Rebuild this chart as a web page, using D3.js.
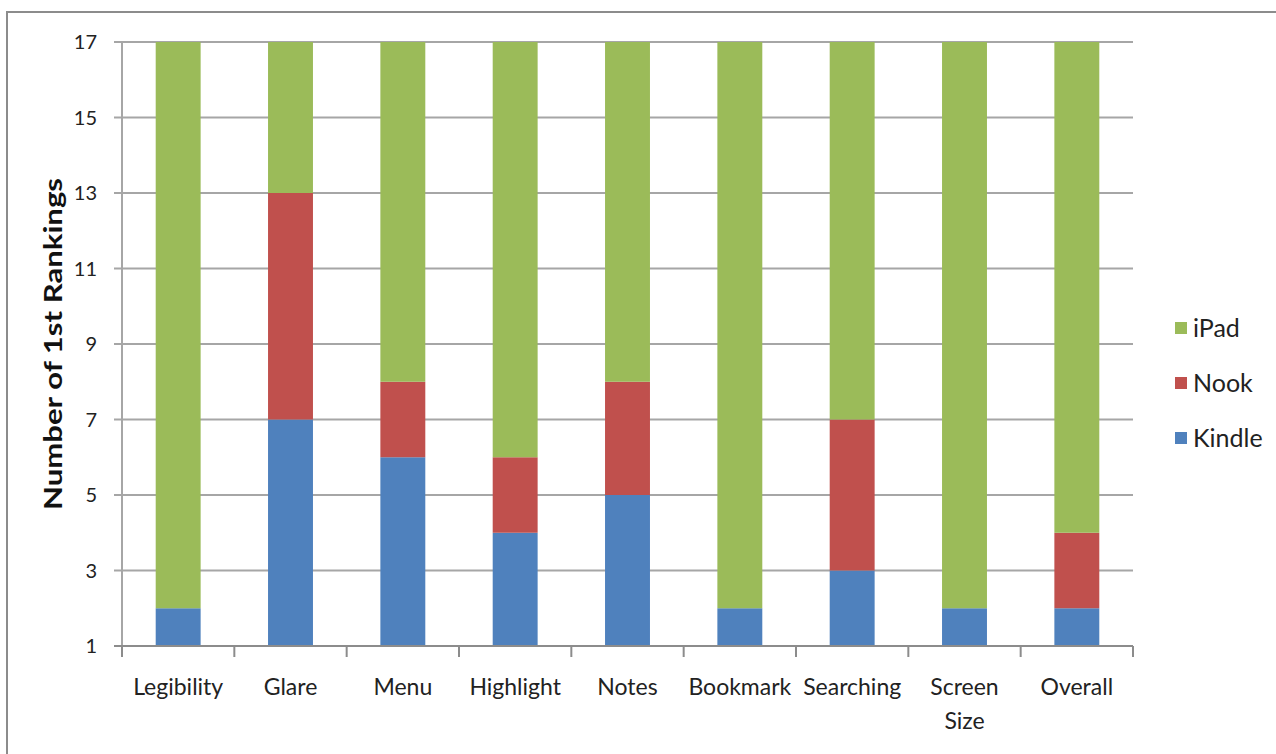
<!DOCTYPE html>
<html><head><meta charset="utf-8">
<script src="https://cdn.jsdelivr.net/npm/d3@7"></script>
<style>body{margin:0;background:#fff;} svg{display:block;}</style>
</head><body>
<svg id="chart" width="1276" height="754"></svg>
<script>
const categories = ["Legibility","Glare","Menu","Highlight","Notes","Bookmark","Searching","Screen Size","Overall"];
const kindle = [2,7,6,4,5,2,3,2,2];
const nook   = [0,6,2,2,3,0,4,0,2];
const ipad   = [15,4,9,11,9,15,10,15,13];
const seriesNames = ["Kindle","Nook","iPad"];
const seriesColors = ["#4F81BD","#C0504D","#9BBB59"];
const yTicks = [1,3,5,7,9,11,13,15,17];
const yTitle = "Number of 1st Rankings";

(function(){
const svg = d3.select("#chart");
const font = "Lato, 'Open Sans', sans-serif";

// outer frame
svg.append("rect").attr("x",7).attr("y",12).attr("width",1300).attr("height",800)
  .attr("fill","none").attr("stroke","#8c8c8c").attr("stroke-width",2);

const pl=122, pr=1133, pt=42, pb=646;
const x = d3.scaleBand().domain(categories).range([pl,pr]).paddingInner(0.6).paddingOuter(0.3);
const y = d3.scaleLinear().domain([1,17]).range([pb,pt]);

// gridlines
svg.append("g").selectAll("line").data(yTicks).join("line")
  .attr("x1",pl-8).attr("x2",pr).attr("y1",d=>y(d)).attr("y2",d=>y(d))
  .attr("stroke","#a6a6a6").attr("stroke-width",2);

// stacked data
const table = categories.map((c,i)=>({cat:c, Kindle:kindle[i], Nook:nook[i], iPad:ipad[i]}));
const stack = d3.stack().keys(seriesNames)(table);
const g = svg.append("g");
stack.forEach((s,si)=>{
  g.selectAll(null).data(s).join("rect")
    .attr("x",d=>x(d.data.cat))
    .attr("width",x.bandwidth())
    .attr("y",d=>y(Math.min(17,d[1])))
    .attr("height",d=>Math.max(0, y(Math.max(1,d[0])) - y(Math.min(17,d[1]))))
    .attr("fill",seriesColors[si]);
});

// y axis line
svg.append("line").attr("x1",pl).attr("x2",pl).attr("y1",pt).attr("y2",pb)
  .attr("stroke","#a6a6a6").attr("stroke-width",2);
// x axis line
svg.append("line").attr("x1",pl-8).attr("x2",pr).attr("y1",pb).attr("y2",pb)
  .attr("stroke","#8c8c8c").attr("stroke-width",2);
// x ticks at band boundaries
const xb = d3.range(categories.length+1).map(i=> pl + (pr-pl)*i/categories.length);
svg.append("g").selectAll("line").data(xb).join("line")
  .attr("x1",d=>d).attr("x2",d=>d).attr("y1",pb).attr("y2",pb+11)
  .attr("stroke","#8c8c8c").attr("stroke-width",2);

// y tick labels
svg.append("g").selectAll("text").data(yTicks).join("text")
  .attr("x",pl-25).attr("y",d=>y(d)).attr("dy","0.35em")
  .attr("text-anchor","end").attr("font-family",font).attr("font-size",20).attr("fill","#222")
  .text(d=>d);

// x labels
const xl = svg.append("g").selectAll("text").data(categories).join("text")
  .attr("x",d=>x(d)+x.bandwidth()/2).attr("y",695)
  .attr("text-anchor","middle").attr("font-family",font).attr("font-size",23).attr("fill","#222");
xl.each(function(d){
  const words = d==="Screen Size" ? ["Screen","Size"] : [d];
  const t=d3.select(this);
  words.forEach((w,i)=>t.append("tspan").attr("x",x(d)+x.bandwidth()/2).attr("dy",i?34:0).text(w));
});

// y title
svg.append("text").attr("transform",`translate(62,${(pt+pb)/2}) rotate(-90)`)
  .attr("text-anchor","middle").attr("font-family",font).attr("font-weight","bold")
  .attr("font-size",24).attr("fill","#111")
  .attr("textLength",332).attr("lengthAdjust","spacingAndGlyphs").text(yTitle);

// legend
const legendItems = ["iPad","Nook","Kindle"];
const lg = svg.append("g");
legendItems.forEach((n,i)=>{
  const yy = 328 + i*55;
  lg.append("rect").attr("x",1175).attr("y",yy-6).attr("width",12).attr("height",12)
    .attr("fill",seriesColors[seriesNames.indexOf(n)]);
  lg.append("text").attr("x",1193).attr("y",yy).attr("dy","0.35em")
    .attr("font-family",font).attr("font-size",25).attr("fill","#222").text(n);
});
})();
</script>
</body></html>
